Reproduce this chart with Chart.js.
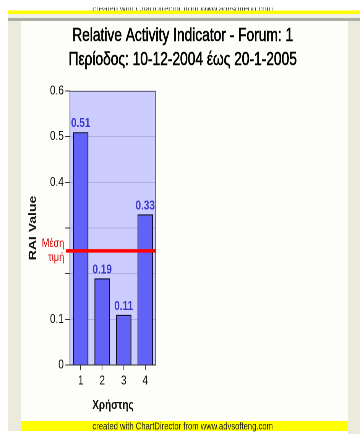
<!DOCTYPE html>
<html>
<head>
<meta charset="utf-8">
<title>Relative Activity Indicator</title>
<script src="https://cdn.jsdelivr.net/npm/chart.js@4.4.1/dist/chart.umd.min.js"></script>
<style>
    html, body { margin: 0; padding: 0; background: #fff; overflow: hidden; }
    /* the original picture is squeezed horizontally, so we draw wide and squeeze */
    #wrap { width: 471px; height: 434px; transform: scaleX(0.7643); transform-origin: 0 0; }
</style>
</head>
<body>
<div id="wrap"><canvas id="raiChart" width="471" height="434"></canvas></div>
<script>
// Δεδομένα
const users = ['1', '2', '3', '4'];
const raiValues = [0.51, 0.19, 0.11, 0.33];
const meanRai = 0.25;
const hiddenTickLabels = [0.2, 0.3];
const titleLines = ['Relative Activity Indicator - Forum: 1', 'Περίοδος: 10-12-2004 έως 20-1-2005'];
const credit = 'created with ChartDirector from www.advsofteng.com';

const FONT = '"Liberation Sans", Arial, sans-serif';

// Πλαίσιο, τίτλος και φόντο περιοχής
const framePlugin = {
    id: 'frame',
    beforeDraw(chart) {
        const { ctx, width, height, chartArea: a } = chart;
        ctx.save();
        ctx.fillStyle = '#ffffff';
        ctx.fillRect(0, 0, width, height);

        // πάνω κομμένο κείμενο
        ctx.save();
        ctx.beginPath();
        ctx.rect(0, 7.5, width, 6);
        ctx.clip();
        ctx.fillStyle = '#303030';
        ctx.font = '10px ' + FONT;
        ctx.textAlign = 'center';
        ctx.textBaseline = 'alphabetic';
        ctx.fillText(credit, 239, 12);
        ctx.restore();

        ctx.fillStyle = '#ffff00';
        ctx.fillRect(10.5, 10.5, width - 10.5, 3.5);
        ctx.fillStyle = '#f2f1e6';
        ctx.fillRect(10.5, 14, width - 10.5, 4);
        ctx.fillStyle = '#a9ada2';
        ctx.fillRect(10.5, 18, width - 10.5, 3);

        // πλαϊνές λωρίδες
        ctx.fillStyle = '#ebeadc';
        ctx.fillRect(10.5, 21, 17, 410);
        ctx.fillRect(455, 21, width - 455, height - 21);
        ctx.fillStyle = '#fdfdfa';
        ctx.fillRect(27.5, 21, 427.5, 400);

        // κάτω κίτρινη ζώνη
        ctx.fillStyle = '#ffff00';
        ctx.fillRect(27.5, 421, 427.5, 10);
        ctx.fillStyle = '#202020';
        ctx.font = '10px ' + FONT;
        ctx.textAlign = 'center';
        ctx.textBaseline = 'middle';
        ctx.fillText(credit, 239, 426.5);

        // τίτλος
        ctx.fillStyle = '#000';
        ctx.font = '18px ' + FONT;
        ctx.lineWidth = 0.5;
        ctx.strokeStyle = '#000';
        titleLines.forEach((t, i) => {
            ctx.fillText(t, 239, 36 + i * 24);
            ctx.strokeText(t, 239, 36 + i * 24);
        });

        // φόντο γραφήματος
        ctx.fillStyle = '#ccccff';
        ctx.fillRect(a.left, a.top, a.right - a.left, a.bottom - a.top);
        ctx.restore();
    },
    afterDatasetsDraw(chart) {
        const { ctx, chartArea: a, scales } = chart;
        ctx.save();
        // πάνω και δεξί περίγραμμα
        ctx.strokeStyle = '#6a6a7a';
        ctx.lineWidth = 1;
        ctx.beginPath();
        ctx.moveTo(a.left, a.top + 0.5);
        ctx.lineTo(a.right - 0.5, a.top + 0.5);
        ctx.lineTo(a.right - 0.5, a.bottom);
        ctx.stroke();

        // τιμές πάνω από τις μπάρες
        const meta = chart.getDatasetMeta(0);
        ctx.fillStyle = '#3a3ad0';
        ctx.font = 'bold 13px ' + FONT;
        ctx.textAlign = 'center';
        ctx.textBaseline = 'bottom';
        meta.data.forEach((bar, i) => {
            ctx.fillText(raiValues[i].toFixed(2), bar.x, bar.y - 2);
        });

        // μέση τιμή
        const y = scales.y.getPixelForValue(meanRai);
        ctx.strokeStyle = '#ff0000';
        ctx.lineWidth = 3.5;
        ctx.beginPath();
        ctx.moveTo(a.left - 5, y);
        ctx.lineTo(a.right, y);
        ctx.stroke();

        ctx.fillStyle = '#d40000';
        ctx.font = '12px ' + FONT;
        ctx.textAlign = 'right';
        ctx.textBaseline = 'middle';
        ctx.fillText('Μέση', 84, y - 7);
        ctx.fillText('τιμή', 84, y + 7);
        ctx.restore();
    }
};

const ctx = document.getElementById('raiChart').getContext('2d');
new Chart(ctx, {
    type: 'bar',
    data: {
        labels: users,
        datasets: [{
            label: 'RAI',
            data: raiValues,
            backgroundColor: '#6262f8',
            borderColor: '#10102a',
            borderWidth: 1.3,
            barPercentage: 0.72,
            categoryPercentage: 1
        }]
    },
    options: {
        responsive: false,
        animation: false,
        devicePixelRatio: 2,
        layout: { padding: { left: 27.5, top: 91, right: 267, bottom: 19 } },
        plugins: { legend: { display: false }, tooltip: { enabled: false } },
        scales: {
            x: {
                afterFit: scale => { scale.height = 50; },
                grid: { display: true, drawOnChartArea: false, offset: false, tickLength: 5, tickColor: '#333' },
                border: { color: '#333' },
                ticks: { color: '#111', font: { family: FONT, size: 13 }, padding: 3 },
                title: {
                    display: true, text: 'Χρήστης', color: '#111',
                    font: { family: FONT, size: 13, weight: 'bold' },
                    padding: { top: 0, bottom: 2 }
                }
            },
            y: {
                min: 0,
                max: 0.6,
                afterFit: scale => { scale.width = 64; },
                grid: { color: 'rgba(150,150,200,0.55)', tickLength: 6, tickColor: '#333' },
                border: { color: '#333' },
                ticks: {
                    stepSize: 0.1,
                    padding: 2,
                    color: '#111',
                    font: { family: FONT, size: 13 },
                    callback: v => {
                        if (hiddenTickLabels.some(h => Math.abs(h - v) < 1e-6)) return '';
                        return v === 0 ? '0' : v.toFixed(1);
                    }
                },
                title: {
                    display: true, text: 'RAI Value', color: '#111',
                    font: { family: FONT, size: 14, weight: 'bold' },
                    padding: { top: 7, bottom: 0 }
                }
            }
        }
    },
    plugins: [framePlugin]
});
</script>
</body>
</html>
